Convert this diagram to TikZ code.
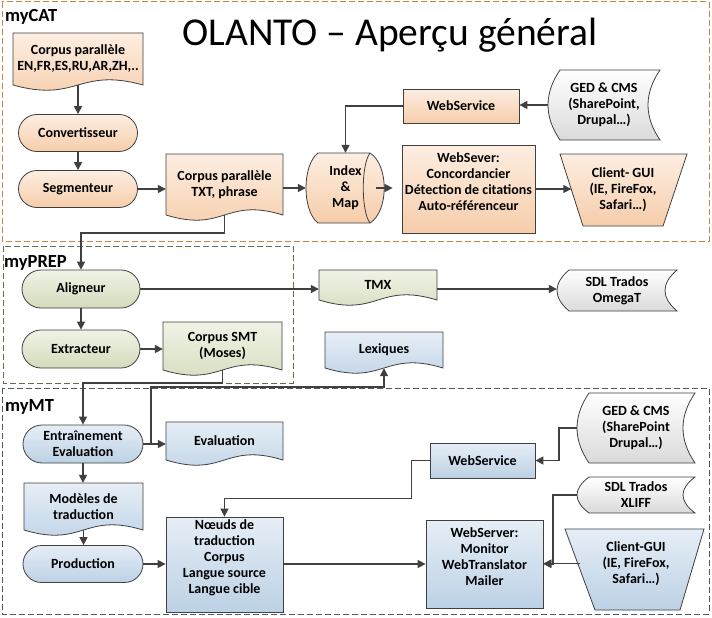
\documentclass[tikz,border=0pt]{standalone}
\usepackage{fontspec}
\setmainfont{Carlito}
\usetikzlibrary{arrows.meta,shapes.misc,calc}
\pgfdeclarelayer{background}
\pgfsetlayers{background,main}
\definecolor{orT}{HTML}{FDEEE2}
\definecolor{orB}{HTML}{F6CDAA}
\definecolor{grT}{HTML}{F0F3E6}
\definecolor{grB}{HTML}{D3DBBB}
\definecolor{blT}{HTML}{E6EEF6}
\definecolor{blB}{HTML}{BCD1E5}
\definecolor{gyT}{HTML}{FFFFFF}
\definecolor{gyB}{HTML}{DADADA}
\definecolor{shapeC}{HTML}{404040}
\definecolor{lineC}{HTML}{404040}
\definecolor{catC}{HTML}{C98640}
\definecolor{prepC}{HTML}{62704C}
\definecolor{mtC}{HTML}{4A5A69}
\tikzset{
  txt/.style={align=center, inner sep=0pt, font=\bfseries\fontsize{14}{16}\selectfont, text=black},
  outl/.style={draw=shapeC, line width=0.8pt},
  orf/.style={outl, top color=orT, bottom color=orB},
  grf/.style={outl, top color=grT, bottom color=grB},
  blf/.style={outl, top color=blT, bottom color=blB},
  gyf/.style={outl, top color=gyT, bottom color=gyB},
  term/.style={rounded rectangle, txt, outl},
  arr/.style={draw=lineC, line width=1.5pt, -{Triangle[length=8pt,width=8pt]}},
  region/.style={line width=1pt, dash pattern=on 6pt off 3pt},
  sec/.style={font=\bfseries\fontsize{18.5}{20}\selectfont, inner sep=0pt, anchor=base west},
}
\newcommand\docnode[7]{%
  \begin{pgfonlayer}{background}
  \path[#6] (#2,#3) -- (#4,#3) -- (#4,#5) .. controls ({(#2+#4)/2},{#5-18}) and ({(#2+#4)/2},{#5+18}) .. (#2,#5) -- cycle;
  \end{pgfonlayer}
  \node[txt, minimum width={(#4)-(#2)}, minimum height={(#5)-(#3)}] (#1) at ({(#2+#4)/2},{(#3+#5)/2}) {#7};}
\newcommand\storenode[7]{%
  \begin{pgfonlayer}{background}
  \path[#6] ({#2+12},#3) -- (#4,#3) .. controls ({#4-16},{#3+(#5-#3)/3}) and ({#4-16},{#3+2*(#5-#3)/3}) .. (#4,#5) -- ({#2+12},#5) .. controls ({#2-4},{#3+2*(#5-#3)/3}) and ({#2-4},{#3+(#5-#3)/3}) .. ({#2+12},#3) -- cycle;
  \end{pgfonlayer}
  \node[txt, minimum width={(#4)-(#2)}, minimum height={(#5)-(#3)}] (#1) at ({(#2+#4)/2},{(#3+#5)/2}) {#7};}
\newcommand\boxnode[8]{%
  \node[#6, rectangle, inner sep=0pt, minimum width={(#4)-(#2)}, minimum height={(#5)-(#3)}, label={[txt,yshift=#8]center:{#7}}] (#1) at ({(#2+#4)/2},{(#3+#5)/2}) {};}
\begin{document}
\begin{tikzpicture}[x=1pt,y=-1pt]
\useasboundingbox (0,0) rectangle (712,618);
\begin{pgfonlayer}{background}
\fill[white] (0,0) rectangle (712,618);
\draw[region, draw=catC] (2,2) rectangle (709,241);
\draw[region, draw=prepC] (3,246) rectangle (293,383);
\draw[region, draw=mtC] (2,388) rectangle (709,614);
\end{pgfonlayer}

% titles
\node[font=\fontsize{39.5}{42}\selectfont, inner sep=0pt, anchor=base] (title) at (390,46) {OLANTO – Aperçu général};
\node[sec] (lcat) at (5,22) {myCAT};
\node[sec] (lprep) at (4,267) {myPREP};
\node[sec] (lmt) at (5,411) {myMT};

% ---------------- myCAT
\docnode{c1}{13}{33}{143}{85}{orf}{Corpus parallèle\\EN,FR,ES,RU,AR,ZH,..}
\node[term, orf, minimum width=119, minimum height=37] (conv) at (78,133) {Convertisseur};
\node[term, orf, minimum width=119, minimum height=37] (seg) at (78,189) {Segmenteur};
\docnode{c2}{166}{154}{283}{215}{orf}{Corpus parallèle\\TXT, phrase}
\begin{pgfonlayer}{background}
\path[orf] (318,153) -- (370,153) .. controls (389,165) and (389,211) .. (370,223) -- (318,223) .. controls (302,211) and (302,165) .. (318,153) -- cycle;
\draw[outl] (370,153) .. controls (361,165) and (361,211) .. (370,223);
\end{pgfonlayer}
\node[txt, minimum width=79, minimum height=70] (idx) at (345.5,188) {Index\\\&\\Map};
\boxnode{wsv}{402}{145}{535}{233}{orf}{WebSever:\\Concordancier\\Détection de citations\\Auto-référenceur}{7pt}
\boxnode{ws1}{403}{89}{519}{123}{orf}{WebService}{0pt}
\storenode{ged1}{548}{70}{660}{140}{gyf}{GED \& CMS\\(SharePoint,\\Drupal…)}
\begin{pgfonlayer}{background}
\path[orf] (560,154) -- (687,154) -- (663,226) -- (583,226) -- cycle;
\end{pgfonlayer}
\node[txt, minimum width=103, minimum height=72] (cli1) at (623,190) {Client- GUI\\(IE, FireFox,\\Safari…)};

\draw[arr] (c1.south) -- (conv.north);
\draw[arr] (conv.south) -- (seg.north);
\draw[arr] (seg.east) -- (seg.east -| c2.west);
\draw[arr] (idx.west -| c2.east) -- (idx.west);
\draw[arr] ([xshift=-9pt]idx.east) -- ([xshift=-9pt]idx.east -| wsv.west);
\draw[arr] (wsv.east) -- (wsv.east -| cli1.west);
\draw[arr] (ged1.west) -- (ged1.west -| ws1.east);
\draw[arr] (ws1.west) -| (idx.north);

% ---------------- myPREP
\node[term, grf, minimum width=118, minimum height=38] (ali) at (81,289) {Aligneur};
\node[term, grf, minimum width=118, minimum height=38] (ext) at (81,349) {Extracteur};
\docnode{smt}{163}{322}{282}{370}{grf}{Corpus SMT\\(Moses)}
\docnode{tmx}{319}{270}{437}{300}{grf}{TMX}
\storenode{sdl1}{557}{270}{677}{311}{gyf}{SDL Trados\\OmegaT}
\docnode{lex}{325}{332}{443}{368}{blf}{Lexiques}

\draw[arr] (c2.south) -- ++(0,18) -| (ali.north);
\draw[arr] (ali.east) -- (ali.east -| tmx.west);
\draw[arr] (ali.east -| tmx.east) -- (ali.east -| sdl1.west);
\draw[arr] (ali.south) -- (ext.north);
\draw[arr] (ext.east) -- (ext.east -| smt.west);

% ---------------- myMT
\node[term, blf, minimum width=120, minimum height=38] (ent) at (83,444) {Entraînement\\Evaluation};
\docnode{eva}{166}{422}{283}{460}{blf}{Evaluation}
\docnode{mod}{24}{483}{143}{530}{blf}{Modèles de\\traduction}
\node[term, blf, minimum width=120, minimum height=37] (prod) at (83,564) {Production};
\boxnode{noe}{166}{517}{283}{612}{blf}{Nœuds de\\traduction\\Corpus\\Langue source\\Langue cible}{7pt}
\boxnode{wsm}{426}{520}{543}{608}{blf}{WebServer:\\Monitor\\WebTranslator\\Mailer}{7pt}
\boxnode{ws2}{430}{443}{535}{478}{blf}{WebService}{0pt}
\storenode{ged2}{577}{393}{695}{463}{gyf}{GED \& CMS\\(SharePoint\\Drupal…)}
\storenode{sdl2}{577}{477}{695}{513}{gyf}{SDL Trados\\XLIFF}
\begin{pgfonlayer}{background}
\path[blf] (565,529) -- (704,529) -- (680,610) -- (595,610) -- cycle;
\end{pgfonlayer}
\node[txt, minimum width=112, minimum height=70] (cli2) at (636,563.5) {Client-GUI\\(IE, FireFox,\\Safari…)};

\draw[arr] (smt.south) -- ++(0,13) -| (ent.north);
\draw[arr] (ent.south) -- (ent.south |- mod.north);
\draw[arr] (mod.south) -- (mod.south |- prod.north);
\draw[arr] (prod.east) -- (prod.east -| noe.west);
\draw[arr] (ent.east) -- (ent.east -| eva.west);
\coordinate (br) at (151,444);
\draw[arr] (br) -- ++(0,-57) -| (lex.south);
\draw[arr] (noe.east |- wsm.west) -- (wsm.west);
\draw[arr] (ws2.west) -- ++(-18,0) |- ([yshift=18pt]noe.north) -- (noe.north);
\draw[arr] (ged2.west) -- ++(-18,0) |- (ws2.east);
\draw[arr] (sdl2.west) -- ++(-24,0) |- (wsm.east);
\draw[arr] (cli2.west) -- (cli2.west -| wsm.east);
\end{tikzpicture}
\end{document}
